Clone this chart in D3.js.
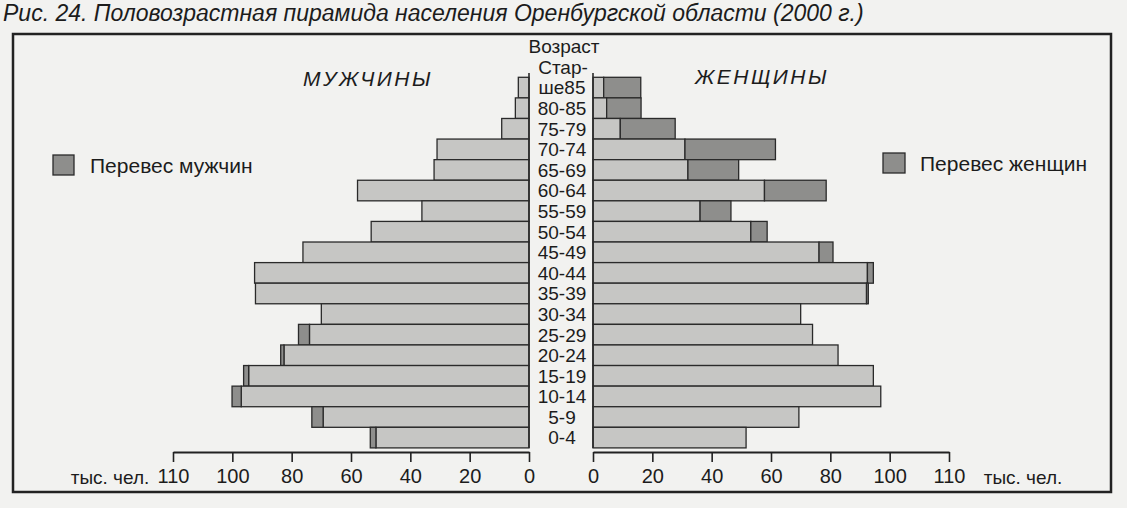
<!DOCTYPE html>
<html><head><meta charset="utf-8">
<script src="https://cdn.jsdelivr.net/npm/d3@7/dist/d3.min.js"></script>
<style>
html,body{margin:0;padding:0;background:#f2f2f0;}
svg{display:block;}
text{font-family:"Liberation Sans",Arial,sans-serif;fill:#1c1c1c;}
</style></head>
<body>
<svg id="chart" width="1127" height="508"></svg>
<script>
const ages = ["Старше85","80-85","75-79","70-74","65-69","60-64","55-59","50-54","45-49","40-44","35-39","30-34","25-29","20-24","15-19","10-14","5-9","0-4"];
const males   = [3.6, 4.6, 9.2, 31.0, 32.0, 57.8, 36.1, 53.2, 76.2, 92.5, 92.2, 70.0, 77.7, 83.7, 96.2, 100.1, 73.2, 53.5];
const females = [16.1, 16.2, 27.7, 61.5, 49.1, 78.6, 46.5, 58.7, 80.9, 94.5, 92.8, 70.0, 74.0, 82.6, 94.5, 97.0, 69.4, 51.6];
const tickValues = [0, 20, 40, 60, 80, 100, 120];
const tickLabels = ["0", "20", "40", "60", "80", "100", "110"];

const svg = d3.select("#chart");
const light = "#c6c6c4", dark = "#8e8e8c", stroke = "#2a2a2a";

svg.append("text").attr("x", 3).attr("y", 21)
  .style("font-size", "23px").style("font-style", "italic")
  .text("Рис. 24. Половозрастная пирамида населения Оренбургской области (2000 г.)");

svg.append("rect").attr("x", 13).attr("y", 34).attr("width", 1098).attr("height", 458)
  .attr("fill", "none").attr("stroke", "#222").attr("stroke-width", 2.5);

const y = d3.scaleBand().domain(ages).range([77.3, 447.9]).padding(0);
const xL = d3.scaleLinear().domain([0, 120]).range([529, 173]);
const xR = d3.scaleLinear().domain([0, 120]).range([593, 949]);

const data = ages.map((a, i) => ({age: a, m: males[i], f: females[i]}));

const g = svg.append("g");
data.forEach(d => {
  const c = Math.min(d.m, d.f);
  g.append("rect").attr("x", xL(c)).attr("y", y(d.age)).attr("width", xL(0) - xL(c)).attr("height", y.bandwidth())
    .attr("fill", light).attr("stroke", stroke).attr("stroke-width", 1.3);
  if (d.m > d.f) {
    g.append("rect").attr("x", xL(d.m)).attr("y", y(d.age)).attr("width", xL(c) - xL(d.m)).attr("height", y.bandwidth())
      .attr("fill", dark).attr("stroke", stroke).attr("stroke-width", 1.3);
  }
  g.append("rect").attr("x", xR(0)).attr("y", y(d.age)).attr("width", xR(c) - xR(0)).attr("height", y.bandwidth())
    .attr("fill", light).attr("stroke", stroke).attr("stroke-width", 1.3);
  if (d.f > d.m) {
    g.append("rect").attr("x", xR(c)).attr("y", y(d.age)).attr("width", xR(d.f) - xR(c)).attr("height", y.bandwidth())
      .attr("fill", dark).attr("stroke", stroke).attr("stroke-width", 1.3);
  }
});

[xL(0), xR(0)].forEach(x => {
  svg.append("line").attr("x1", x).attr("x2", x).attr("y1", 73).attr("y2", 448)
    .attr("stroke", stroke).attr("stroke-width", 1.6);
});

const cx = 562;
svg.append("text").attr("x", cx + 2).attr("y", 53).attr("text-anchor", "middle")
  .style("font-size", "19px").text("Возраст");
svg.append("text").attr("x", cx + 1).attr("y", 74).attr("text-anchor", "middle")
  .style("font-size", "19px").text("Стар-");
data.forEach(d => {
  svg.append("text").attr("x", cx).attr("y", y(d.age) + y.bandwidth() / 2).attr("dy", "0.36em")
    .attr("text-anchor", "middle").style("font-size", "19px")
    .text(d.age === "Старше85" ? "ше85" : d.age);
});

const fmt = v => tickLabels[tickValues.indexOf(v)];
const axL = svg.append("g").attr("transform", "translate(0,452)")
  .call(d3.axisBottom(xL).tickValues(tickValues).tickFormat(fmt).tickSize(10).tickSizeOuter(0).tickPadding(7));
const axR = svg.append("g").attr("transform", "translate(0,452)")
  .call(d3.axisBottom(xR).tickValues(tickValues).tickFormat(fmt).tickSize(10).tickSizeOuter(0).tickPadding(7));
[axL, axR].forEach(ax => {
  ax.select(".domain").attr("stroke", "#222").attr("stroke-width", 2);
  ax.selectAll(".tick line").attr("stroke", "#222").attr("stroke-width", 1.6);
  ax.selectAll(".tick text").style("font-size", "20px").attr("fill", "#1c1c1c")
    .style("font-family", "'Liberation Sans',Arial,sans-serif");
});
svg.append("text").attr("x", 110).attr("y", 484).attr("text-anchor", "middle").style("font-size", "19px").text("тыс. чел.");
svg.append("text").attr("x", 1023).attr("y", 484).attr("text-anchor", "middle").style("font-size", "19px").text("тыс. чел.");

svg.append("text").attr("x", 303).attr("y", 86).style("font-size", "21px").style("font-style", "italic")
  .style("letter-spacing", "2.5px").text("МУЖЧИНЫ");
svg.append("text").attr("x", 695).attr("y", 84).style("font-size", "21px").style("font-style", "italic")
  .style("letter-spacing", "2.5px").text("ЖЕНЩИНЫ");

svg.append("rect").attr("x", 53).attr("y", 155).attr("width", 21).attr("height", 20)
  .attr("fill", dark).attr("stroke", stroke).attr("stroke-width", 1.3);
svg.append("text").attr("x", 90).attr("y", 173).style("font-size", "21px").text("Перевес мужчин");
svg.append("rect").attr("x", 883).attr("y", 153).attr("width", 22).attr("height", 20)
  .attr("fill", dark).attr("stroke", stroke).attr("stroke-width", 1.3);
svg.append("text").attr("x", 920).attr("y", 171).style("font-size", "21px").text("Перевес женщин");
</script>
</body></html>
